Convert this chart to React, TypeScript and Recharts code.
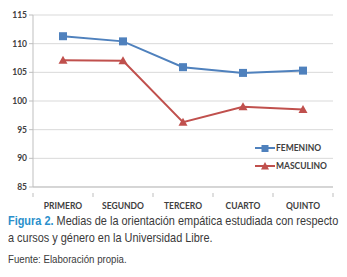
import { CartesianGrid, Line, LineChart, XAxis, YAxis } from "recharts";

const cursos = ["PRIMERO", "SEGUNDO", "TERCERO", "CUARTO", "QUINTO"];
const femenino = [111.3, 110.4, 105.9, 104.9, 105.3];
const masculino = [107.1, 107.0, 96.3, 99.0, 98.5];
const yTicks = [85, 90, 95, 100, 105, 110, 115];

const data = cursos.map((curso, i) => ({
  curso,
  femenino: femenino[i],
  masculino: masculino[i],
}));

const BLUE = "#4f81bd";
const RED = "#c0504d";
const TICK_FONT = "Lato, 'Open Sans', sans-serif";
const CAPTION_FONT = "'Liberation Sans', Arial, sans-serif";

const Square = (props: any) => {
  const { cx, cy } = props;
  if (cx == null || cy == null) return null;
  return <rect x={cx - 4} y={cy - 4} width={8} height={8} fill={BLUE} />;
};

const Triangle = (props: any) => {
  const { cx, cy } = props;
  if (cx == null || cy == null) return null;
  return (
    <path
      d={`M${cx},${cy - 4.5} L${cx + 4.5},${cy + 3.5} L${cx - 4.5},${cy + 3.5} Z`}
      fill={RED}
    />
  );
};

// category labels, with tick marks on the band edges like the original
const CursoTick = (props: any) => {
  const { x, y, payload, index } = props;
  const half = 30;
  return (
    <g>
      <line x1={x - half} y1={y - 2} x2={x - half} y2={y + 2} stroke="#bfbfbf" />
      {index === cursos.length - 1 && (
        <line x1={x + half} y1={y - 2} x2={x + half} y2={y + 2} stroke="#bfbfbf" />
      )}
      <text
        x={x}
        y={y + 14}
        textAnchor="middle"
        fontSize={8.5}
        fontWeight={700}
        fontFamily={TICK_FONT}
        fill="#404040"
      >
        {payload.value}
      </text>
    </g>
  );
};

const LegendBox = () => {
  const items = [
    { label: "FEMENINO", color: BLUE, shape: "square" },
    { label: "MASCULINO", color: RED, shape: "triangle" },
  ];
  return (
    <div style={{ position: "absolute", left: 255, top: 139 }}>
      {items.map((it) => (
        <div
          key={it.label}
          style={{ display: "flex", alignItems: "center", height: 18 }}
        >
          <svg width={20} height={10}>
            <line x1={0} y1={5} x2={20} y2={5} stroke={it.color} strokeWidth={2} />
            {it.shape === "square" ? (
              <rect x={6.5} y={2} width={7} height={7} fill={it.color} />
            ) : (
              <path d="M10,1 L14,8.5 L6,8.5 Z" fill={it.color} />
            )}
          </svg>
          <span
            style={{
              fontFamily: TICK_FONT,
              fontSize: 8.5,
              fontWeight: 700,
              color: "#404040",
              marginLeft: 1,
            }}
          >
            {it.label}
          </span>
        </div>
      ))}
    </div>
  );
};

const captionLine = {
  whiteSpace: "nowrap" as const,
  transform: "scaleX(0.84)",
  transformOrigin: "left center",
};

export default function App() {
  return (
    <div
      style={{
        position: "absolute",
        left: 0,
        top: 0,
        width: 347,
        height: 277,
        background: "#fff",
        overflow: "hidden",
      }}
    >
      <LineChart
        width={347}
        height={213}
        data={data}
        margin={{ top: 15, right: 14, bottom: 0, left: 0 }}
      >
        <CartesianGrid vertical={false} stroke="#d9d9d9" />
        <XAxis
          dataKey="curso"
          tickLine={false}
          axisLine={{ stroke: "#bfbfbf" }}
          height={26}
          interval={0}
          padding={{ left: 30, right: 30 }}
          tick={<CursoTick />}
        />
        <YAxis
          domain={[85, 115]}
          ticks={yTicks}
          width={33}
          tickSize={4}
          tickLine={{ stroke: "#bfbfbf" }}
          axisLine={{ stroke: "#bfbfbf" }}
          tick={{
            fontSize: 8.5,
            fontWeight: 700,
            fontFamily: TICK_FONT,
            fill: "#404040",
          }}
        />
        <Line
          dataKey="femenino"
          stroke={BLUE}
          strokeWidth={2}
          dot={<Square />}
          isAnimationActive={false}
        />
        <Line
          dataKey="masculino"
          stroke={RED}
          strokeWidth={2}
          dot={<Triangle />}
          isAnimationActive={false}
        />
      </LineChart>
      <LegendBox />
      <div
        style={{
          position: "absolute",
          left: 8,
          top: 212,
          fontFamily: CAPTION_FONT,
          color: "#3a3a3a",
        }}
      >
        <div style={{ ...captionLine, fontSize: 13, lineHeight: "17px" }}>
          <span style={{ color: "#2a8fcb", fontWeight: 700 }}>Figura 2.</span>{" "}
          Medias de la orientación empática estudiada con respecto
        </div>
        <div style={{ ...captionLine, fontSize: 13, lineHeight: "17px" }}>
          a cursos y género en la Universidad Libre.
        </div>
        <div
          style={{ ...captionLine, fontSize: 11.5, lineHeight: "14px", marginTop: 6 }}
        >
          Fuente: Elaboración propia.
        </div>
      </div>
    </div>
  );
}
